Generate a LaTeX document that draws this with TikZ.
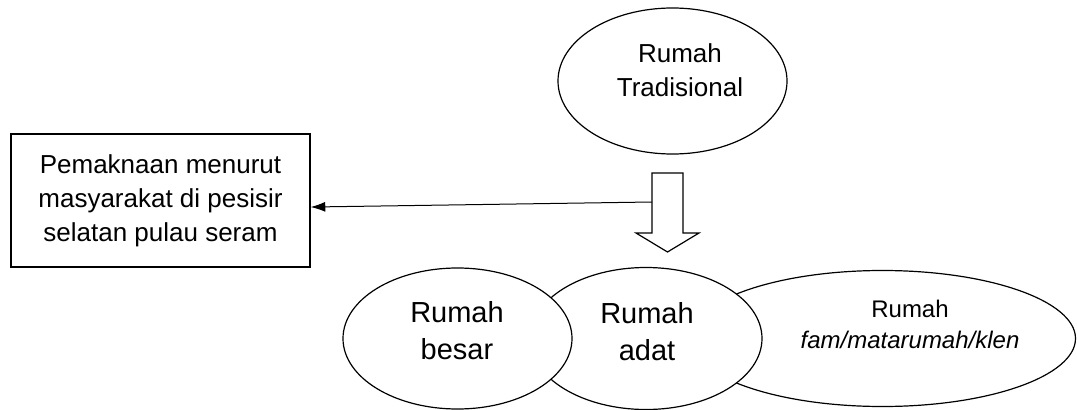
\documentclass[tikz,border=0pt]{standalone}
\usepackage{fontspec}
\setmainfont{Liberation Sans}
\usetikzlibrary{arrows.meta,shapes.geometric}

\begin{document}
\begin{tikzpicture}[x=0.75pt, y=-0.75pt, >={Latex[length=11pt,width=7.5pt]},
    oval/.style={draw, ellipse, fill=white, line width=0.9pt, inner sep=0pt},
    txt/.style={align=center, inner sep=0pt}]
    \useasboundingbox (0,0) rectangle (1077,410);

    % top
    \node[oval, minimum width=171.75pt, minimum height=109.5pt] (tradisional) at (672.5,81) {};
    \node[txt, font=\fontsize{19.5}{25.5}\selectfont] (tradisionaltext) at (680,70) {Rumah\\Tradisional};

    % box on the left
    \node[draw, line width=0.9pt, minimum width=224.25pt, minimum height=99.75pt, align=center,
        font=\fontsize{19.5}{25.5}\selectfont] (pemaknaan) at (160.5,200.5)
        {Pemaknaan menurut\\masyarakat di pesisir\\selatan pulau seram};

    % block arrow down
    \draw[line width=0.9pt] (652,173) -- (683,173) -- (683,233) -- (699,233) -- (667.5,252)
        -- (636,233) -- (652,233) -- cycle;
    \coordinate (panahkiri) at (652,202);
    \draw[->, line width=0.75pt] (panahkiri) -- ([yshift=-4.9pt]pemaknaan.east);

    % bottom row
    \node[oval, minimum width=289.5pt, minimum height=102pt] (klen) at (882.5,338.5) {};
    \node[oval, minimum width=174pt, minimum height=106.5pt] (adat) at (646,338.5) {};
    \node[oval, minimum width=171.75pt, minimum height=105.75pt] (besar) at (457.5,338.5) {};

    \node[txt, font=\fontsize{21.75}{27.75}\selectfont] (besartext) at (457,331) {Rumah\\besar};
    \node[txt, font=\fontsize{21.75}{27.75}\selectfont] (adattext) at (647,332) {Rumah\\adat};
    \node[txt, font=\fontsize{18}{23.25}\selectfont] (klentext) at (910,324) {Rumah\\\textit{fam/matarumah/klen}};
\end{tikzpicture}
\end{document}
